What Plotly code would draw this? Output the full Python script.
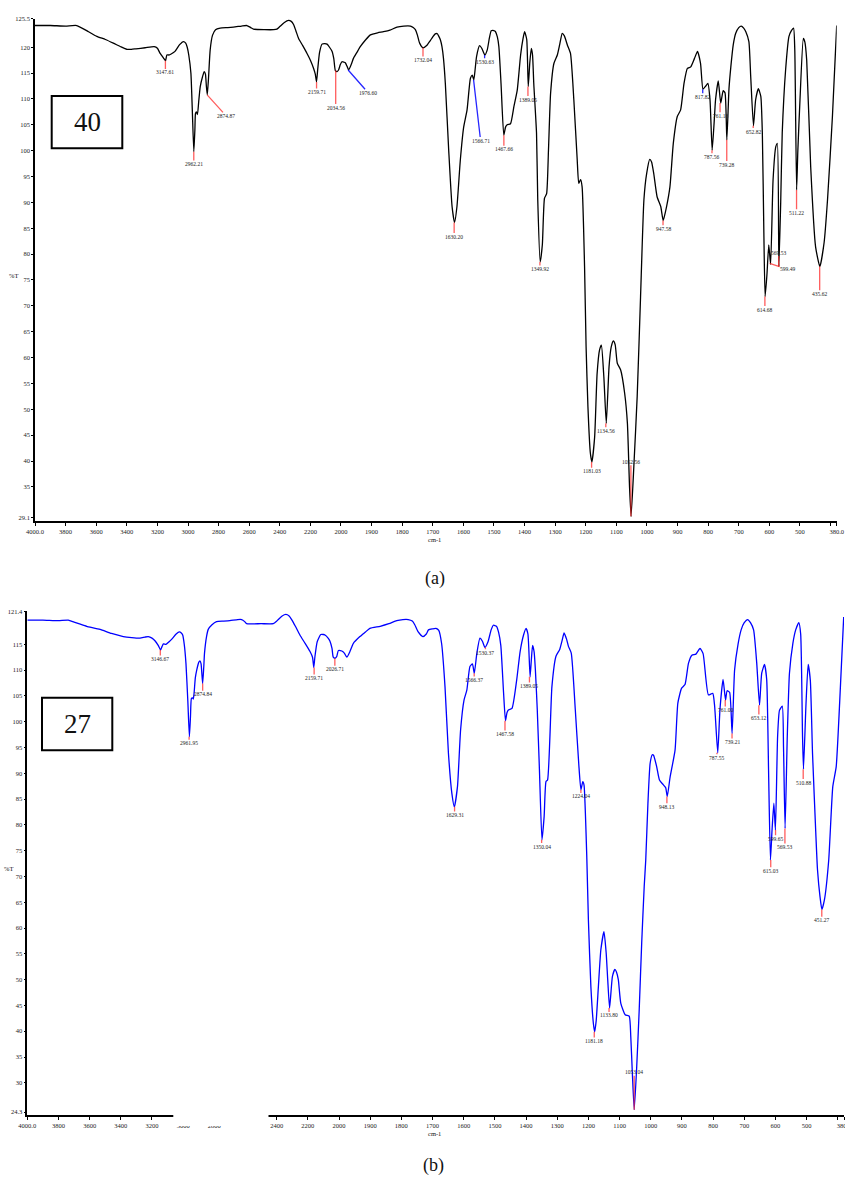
import numpy as np
import plotly.graph_objects as go

# ---------------- data ----------------
wn_a = [4000, 3900, 3800, 3727, 3650, 3596, 3540, 3488, 3440, 3400, 3370, 3340, 3280, 3221, 3200, 3182, 3160, 3147, 3138, 3125, 3110, 3085, 3055, 3030, 3015, 3005, 2995, 2981, 2972, 2962, 2955, 2951, 2945, 2938, 2930, 2920, 2905, 2894, 2886, 2880, 2874, 2866, 2855, 2840, 2820, 2790, 2740, 2703, 2650, 2615, 2590, 2572, 2500, 2440, 2419, 2400, 2370, 2343, 2325, 2310, 2295, 2277, 2250, 2222, 2200, 2179, 2168, 2160, 2152, 2140, 2124, 2105, 2091, 2075, 2058, 2047, 2037, 2026, 2016, 2005, 1997, 1990, 1986, 1980, 1975, 1967, 1959, 1948, 1937, 1920, 1904, 1880, 1861, 1840, 1817, 1795, 1773, 1764, 1757, 1750, 1743, 1732, 1719, 1708, 1700, 1692, 1685, 1681, 1675, 1670, 1665, 1659, 1648, 1637, 1629, 1621, 1610, 1599, 1588, 1577, 1571, 1566, 1562, 1557, 1547, 1540, 1530, 1522, 1515, 1509, 1500, 1495, 1489, 1484, 1477, 1468, 1462, 1457, 1446, 1435, 1424, 1413, 1405, 1400, 1393, 1388, 1383, 1378, 1374, 1370, 1361, 1357, 1349, 1342, 1335, 1328, 1322, 1315, 1304, 1293, 1285, 1277, 1270, 1260, 1250, 1239, 1228, 1223, 1217, 1212, 1204, 1199, 1193, 1185, 1180, 1171, 1163, 1155, 1149, 1141, 1133, 1124, 1117, 1110, 1104, 1097, 1086, 1073, 1064, 1057, 1052, 1043, 1032, 1021, 1010, 1001, 991, 985, 978, 967, 955, 947, 936, 925, 914, 901, 890, 879, 868, 857, 845, 835, 825, 817, 808, 801, 794, 787, 780, 776, 767, 759, 751, 745, 739, 732, 726, 718, 710, 700, 692, 684, 677, 667, 661, 652, 645, 636, 628, 623, 618, 614, 608, 602, 596, 588, 579, 574, 569, 563, 558, 547, 536, 528, 521, 517, 511, 507, 500, 489, 484, 478, 465, 449, 435, 421, 410, 394, 380]
t_a = [124.2, 124.2, 124.1, 124.2, 123.0, 122.1, 121.5, 120.8, 120.1, 119.6, 119.6, 119.7, 119.9, 120.1, 119.8, 118.8, 117.9, 117.4, 118.5, 118.5, 118.7, 119.2, 120.5, 121.1, 120.8, 120.0, 118.5, 115.0, 108.0, 99.8, 104.0, 107.2, 107.5, 107.0, 109.5, 112.4, 114.3, 115.3, 114.8, 112.5, 110.8, 114.0, 119.5, 122.3, 123.4, 123.7, 123.8, 123.9, 124.1, 124.2, 123.8, 123.5, 123.4, 123.4, 123.5, 124.0, 124.8, 125.2, 125.0, 124.4, 123.2, 121.7, 120.3, 118.8, 117.5, 115.9, 114.8, 113.3, 115.8, 119.0, 120.6, 120.7, 120.6, 120.0, 119.2, 117.8, 115.5, 115.3, 115.6, 116.6, 117.2, 117.1, 117.0, 116.3, 115.6, 116.6, 117.9, 119.0, 120.1, 121.4, 122.4, 122.8, 123.0, 123.3, 123.9, 124.1, 124.1, 123.8, 123.4, 122.3, 120.8, 119.9, 120.4, 121.3, 122.0, 122.6, 122.6, 122.2, 121.4, 120.1, 117.8, 113.0, 100.1, 89.2, 86.1, 89.2, 98.2, 104.6, 107.9, 114.0, 114.6, 113.7, 115.5, 118.2, 120.3, 119.8, 118.5, 119.5, 121.8, 123.2, 123.2, 123.0, 122.0, 120.1, 113.0, 103.0, 104.6, 105.0, 105.2, 108.5, 111.7, 118.5, 121.7, 123.0, 121.5, 112.4, 117.0, 119.8, 118.5, 113.0, 103.4, 90.5, 78.5, 81.8, 90.8, 91.7, 100.0, 111.1, 116.9, 118.5, 120.6, 122.7, 122.2, 120.4, 118.8, 109.8, 98.2, 93.7, 94.4, 93.0, 77.6, 62.1, 50.5, 41.5, 39.8, 44.7, 56.9, 61.5, 62.4, 56.3, 47.3, 58.2, 62.0, 63.2, 62.5, 58.9, 57.6, 53.1, 47.3, 35.0, 29.3, 38.9, 52.5, 71.8, 90.5, 95.6, 98.3, 97.8, 95.6, 91.1, 89.2, 86.5, 89.2, 93.0, 101.4, 106.6, 107.9, 113.0, 115.9, 116.2, 117.8, 119.2, 116.9, 111.9, 112.5, 113.0, 109.8, 100.1, 106.0, 109.8, 113.5, 109.2, 111.6, 111.2, 102.1, 112.0, 116.2, 120.5, 122.7, 123.8, 124.1, 123.7, 123.0, 121.1, 114.3, 104.8, 109.8, 112.0, 110.5, 103.4, 84.0, 71.8, 76.0, 81.8, 78.0, 94.3, 100.8, 101.4, 77.6, 90.0, 103.4, 115.6, 122.1, 123.2, 123.7, 119.5, 92.4, 100.0, 109.8, 121.7, 121.0, 117.5, 96.9, 81.4, 77.6, 82.3, 90.5, 106.6, 124.2]

wn_b = [4000, 3900, 3800, 3737, 3700, 3660, 3619, 3533, 3460, 3384, 3330, 3277, 3245, 3224, 3200, 3181, 3160, 3145, 3135, 3127, 3110, 3090, 3073, 3045, 3024, 3012, 3003, 2993, 2982, 2970, 2960, 2953, 2947, 2940, 2935, 2930, 2922, 2913, 2900, 2892, 2885, 2875, 2868, 2863, 2850, 2839, 2815, 2786, 2740, 2700, 2650, 2625, 2605, 2593, 2500, 2422, 2400, 2390, 2365, 2341, 2320, 2304, 2280, 2251, 2220, 2186, 2170, 2162, 2155, 2140, 2117, 2100, 2090, 2070, 2058, 2045, 2037, 2026, 2015, 2004, 1991, 1983, 1975, 1965, 1954, 1933, 1915, 1901, 1868, 1840, 1815, 1795, 1778, 1765, 1757, 1746, 1731, 1720, 1713, 1700, 1689, 1680, 1671, 1660, 1649, 1638, 1630, 1620, 1610, 1599, 1590, 1580, 1572, 1566, 1558, 1548, 1540, 1532, 1522, 1512, 1505, 1495, 1488, 1481, 1472, 1466, 1461, 1456, 1445, 1430, 1419, 1408, 1400, 1394, 1387, 1383, 1379, 1374, 1370, 1364, 1357, 1349, 1342, 1336, 1331, 1317, 1304, 1292, 1284, 1278, 1270, 1264, 1255, 1242, 1231, 1224, 1218, 1214, 1205, 1200, 1192, 1184, 1180, 1175, 1168, 1160, 1150, 1143, 1138, 1132, 1123, 1115, 1110, 1104, 1096, 1082, 1069, 1064, 1059, 1053, 1045, 1037, 1029, 1021, 1016, 1009, 1002, 995, 991, 981, 972, 960, 952, 947, 938, 922, 913, 901, 890, 879, 868, 855, 842, 832, 815, 801, 795, 785, 778, 768, 760, 755, 747, 739, 731, 720, 710, 700, 689, 680, 670, 660, 651, 644, 635, 628, 622, 616, 611, 605, 600, 593, 587, 578, 574, 569, 562, 555, 544, 535, 525, 519, 513, 510, 502, 495, 488, 481, 470, 465, 457, 451, 443, 429, 416, 405, 394, 381]
t_b = [119.7, 119.7, 119.6, 119.7, 119.3, 118.9, 118.5, 117.9, 117.1, 116.5, 116.3, 116.2, 116.4, 116.5, 116.2, 115.7, 114.8, 113.9, 114.6, 115.1, 115.0, 115.5, 116.0, 117.0, 117.4, 117.2, 116.8, 115.0, 111.3, 104.0, 97.1, 101.0, 104.5, 104.6, 104.4, 105.5, 108.5, 110.0, 111.5, 111.8, 111.2, 107.4, 110.5, 113.3, 116.5, 117.9, 118.8, 119.4, 119.5, 119.6, 119.8, 119.8, 119.4, 119.0, 119.0, 119.0, 119.5, 119.8, 120.5, 120.8, 120.5, 119.8, 118.5, 116.8, 115.3, 113.6, 112.5, 110.5, 112.5, 115.5, 116.9, 116.9, 116.8, 116.2, 115.6, 114.2, 112.5, 112.3, 112.6, 113.8, 113.7, 113.3, 112.5, 113.6, 115.2, 116.5, 117.4, 118.1, 118.5, 119.0, 119.6, 119.8, 119.8, 119.5, 118.8, 117.4, 116.5, 117.0, 117.8, 118.0, 118.1, 117.7, 115.2, 106.8, 93.9, 86.1, 83.5, 87.4, 98.4, 104.2, 106.1, 110.7, 111.2, 109.4, 113.2, 116.2, 115.6, 114.4, 115.5, 117.8, 118.7, 118.5, 117.3, 114.8, 105.5, 100.2, 101.8, 102.3, 102.6, 108.1, 113.6, 116.8, 118.1, 117.0, 108.7, 112.0, 114.8, 113.5, 110.0, 102.3, 90.6, 77.1, 81.6, 88.4, 88.7, 106.8, 112.7, 114.0, 115.8, 117.2, 116.0, 114.6, 113.3, 102.3, 91.9, 86.8, 88.4, 87.7, 73.5, 61.6, 48.6, 41.5, 39.9, 42.0, 48.6, 55.8, 59.3, 55.2, 50.0, 44.5, 50.6, 52.0, 51.5, 50.0, 45.4, 43.2, 42.9, 38.9, 31.9, 24.8, 33.1, 44.1, 57.1, 68.0, 73.2, 84.2, 91.9, 93.6, 93.5, 91.3, 88.7, 87.8, 87.2, 85.5, 89.2, 94.5, 103.6, 106.5, 107.2, 111.3, 112.9, 113.1, 114.2, 113.2, 105.2, 105.5, 103.0, 94.0, 102.3, 108.2, 104.2, 106.0, 105.7, 97.7, 110.0, 115.0, 117.8, 119.2, 119.8, 119.2, 117.8, 111.4, 103.2, 109.4, 111.1, 108.2, 90.6, 73.2, 78.8, 84.2, 79.0, 97.1, 102.2, 103.0, 95.0, 79.3, 97.1, 109.4, 115.2, 117.8, 119.2, 117.0, 97.1, 90.8, 103.3, 111.1, 108.0, 93.9, 77.7, 71.3, 66.1, 63.6, 65.4, 73.2, 87.4, 91.3, 103.6, 120.3]

peaks_a_wn = [3147.61, 2962.21, 2874.87, 2159.71, 2034.56, 1976.60, 1732.04, 1630.20, 1566.71, 1530.63, 1467.66, 1389.05, 1349.92, 1181.03, 1134.56, 1052.56, 947.58, 817.82, 787.56, 761.18, 739.28, 652.82, 614.68, 599.49, 569.53, 511.22, 435.62]
peaks_a_t = [117.4, 99.8, 110.8, 113.3, 115.5, 115.6, 119.9, 86.1, 113.7, 118.5, 103.0, 112.4, 78.5, 39.8, 47.3, 29.3, 86.5, 111.9, 100.1, 109.2, 102.1, 104.8, 71.8, 78.2, 77.6, 92.4, 77.6]
peaks_b_wn = [3146.67, 2961.95, 2874.84, 2159.71, 2026.71, 1629.31, 1566.37, 1530.37, 1467.58, 1389.05, 1350.04, 1224.04, 1181.18, 1133.80, 1053.04, 948.13, 787.55, 761.00, 739.21, 653.12, 615.03, 599.65, 569.53, 510.88, 451.27]
peaks_b_t = [113.9, 97.1, 107.4, 110.5, 112.3, 83.5, 109.4, 114.4, 100.2, 108.7, 77.1, 86.8, 39.9, 44.5, 24.8, 85.5, 94.0, 104.2, 97.7, 103.2, 73.2, 79.0, 79.3, 90.8, 63.6]

tick_wn = [4000, 3800, 3600, 3400, 3200, 3000, 2800, 2600, 2400, 2200, 2000, 1900, 1800, 1700, 1600, 1500, 1400, 1300, 1200, 1100, 1000, 900, 800, 700, 600, 500, 400, 380]
tick_text = ["4000.0", "3800", "3600", "3400", "3200", "3000", "2800", "2600", "2400", "2200", "2000", "1900", "1800", "1700", "1600", "1500", "1400", "1300", "1200", "1100", "1000", "900", "800", "700", "600", "500", "", "380.0"]
ytick_a = [29.1, 35, 40, 45, 50, 55, 60, 65, 70, 75, 80, 85, 90, 95, 100, 105, 110, 115, 120, 125.5]
ytick_b = [24.3, 30, 35, 40, 45, 50, 55, 60, 65, 70, 75, 80, 85, 90, 95, 100, 105, 110, 115, 121.4]

# ------------- label styling (pixel offsets) -------------
a_ax = [0, 0, 19, 0, 0, 20, 0, 0, 7, 0, 0, 0, 0, 0, 0, 0, 0, 0, 0, 0, 0, 0, 0, 18, 0, 0, 0]
a_ay = [11.7, 12.3, 21, 10, 37, 22.7, 12.3, 14, 60.7, 6.7, 14, 13, 7, 9.3, 7.4, -54.6, 8.3, 7.7, 6.7, 12.7, 24.7, 5.7, 13, 5.6, -14, 22.7, 27.3]
a_blue = {1976.60, 1566.71, 1530.63, 817.82}
b_ay = [9, 6.5, 10.7, 10.4, 11, 8.3, 6.7, 5.4, 13.3, 9.3, 6.7, 6.7, 9.3, 7.4, -37.3, 10.3, 5, 10, 8.4, 12.7, 10.7, 8.7, 18.4, 13.4, 10.7]


def xf(w):
    w = np.asarray(w, float)
    return np.where(w >= 2000, (4000 - w) / 200.0, 10 + (2000 - w) / 100.0)


W, H = 845, 1183
FONT = "Liberation Serif"
RED = "rgba(255,40,40,0.75)"
BLUE = "rgba(0,0,255,0.85)"
XMAX = float(xf(380)) + 1e-9

fig = go.Figure()
fig.add_trace(go.Scatter(x=xf(wn_a), y=t_a, mode="lines",
                         line=dict(color="black", width=1.3, shape="spline", smoothing=0.5),
                         xaxis="x", yaxis="y", hoverinfo="skip", showlegend=False))
fig.add_trace(go.Scatter(x=xf(wn_b), y=t_b, mode="lines",
                         line=dict(color="#0000ff", width=1.3, shape="spline", smoothing=0.5),
                         xaxis="x2", yaxis="y2", hoverinfo="skip", showlegend=False))


def px(x):
    return x / W


def py(y):
    return 1 - y / H


axis_common = dict(showline=True, linecolor="black", linewidth=1.5, ticks="outside",
                   tickwidth=1, tickcolor="black", showgrid=False, zeroline=False,
                   tickfont=dict(family=FONT, size=6.5, color="#222"), fixedrange=True,
                   automargin=False)

fig.update_layout(
    width=W, height=H, margin=dict(l=0, r=0, t=0, b=0, autoexpand=False),
    paper_bgcolor="white", plot_bgcolor="white",
    xaxis=dict(domain=[px(35), px(836.7)], range=[0, XMAX], anchor="y", ticklen=3,
               tickmode="array", tickvals=list(xf(tick_wn)), ticktext=tick_text,
               ticklabeloverflow="allow", **axis_common),
    yaxis=dict(domain=[py(521), py(18.8)], range=[28.4, 125.5], anchor="x", ticklen=2,
               tickmode="array", tickvals=ytick_a, ticktext=[str(v) for v in ytick_a],
               **axis_common),
    xaxis2=dict(domain=[px(27.3), px(844)], range=[0, XMAX], anchor="y2", ticklen=3,
                tickmode="array", tickvals=list(xf(tick_wn)), ticktext=tick_text,
                ticklabeloverflow="allow", **axis_common),
    yaxis2=dict(domain=[py(1115.3), py(611.3)], range=[23.7, 121.4], anchor="x2", ticklen=2,
                tickmode="array", tickvals=ytick_b, ticktext=[str(v) for v in ytick_b],
                **axis_common),
)

annotations = []
for i, (w, t) in enumerate(zip(peaks_a_wn, peaks_a_t)):
    col = BLUE if w in a_blue else RED
    annotations.append(dict(x=float(xf(w)), y=t, xref="x", yref="y", text=f"{w:.2f}",
                            showarrow=True, arrowhead=0, arrowwidth=1.3, arrowcolor=col,
                            ax=a_ax[i], ay=a_ay[i], standoff=0, borderpad=0,
                            font=dict(family=FONT, size=5.5, color="#222")))
for i, (w, t) in enumerate(zip(peaks_b_wn, peaks_b_t)):
    annotations.append(dict(x=float(xf(w)), y=t, xref="x2", yref="y2", text=f"{w:.2f}",
                            showarrow=True, arrowhead=0, arrowwidth=1.3, arrowcolor=RED,
                            ax=0, ay=b_ay[i], standoff=0, borderpad=0,
                            font=dict(family=FONT, size=5.5, color="#222")))


def paper_text(x, y, text, size):
    return dict(x=px(x), y=py(y), xref="paper", yref="paper", text=text, showarrow=False,
                xanchor="center", yanchor="middle",
                font=dict(family=FONT, size=size, color="#111"))


annotations += [
    paper_text(13.3, 275, "%T", 6.5),
    paper_text(8.5, 868, "%T", 6.5),
    paper_text(435, 539.5, "cm-1", 6.5),
    paper_text(435, 1133.5, "cm-1", 6.5),
    paper_text(435, 578, "(a)", 18),
    paper_text(433, 1165, "(b)", 18),
    paper_text(87, 122, "40", 27),
    paper_text(77.2, 724, "27", 27),
]
fig.update_layout(annotations=annotations)

shapes = [
    dict(type="rect", xref="paper", yref="paper", x0=px(51.7), x1=px(122.3), y0=py(148.3), y1=py(96),
         line=dict(color="black", width=2), fillcolor="rgba(0,0,0,0)", layer="above"),
    dict(type="rect", xref="paper", yref="paper", x0=px(42), x1=px(112.3), y0=py(750.3), y1=py(697.7),
         line=dict(color="black", width=2), fillcolor="rgba(0,0,0,0)", layer="above"),
    # blanked portion of lower axis (as in the source image)
    dict(type="rect", xref="paper", yref="paper", x0=px(173.3), x1=px(268.3), y0=py(1126), y1=py(1112.5),
         line=dict(width=0), fillcolor="white", layer="above"),
    dict(type="rect", xref="paper", yref="paper", x0=px(228), x1=px(268.3), y0=py(1130), y1=py(1112.5),
         line=dict(width=0), fillcolor="white", layer="above"),
]
fig.update_layout(shapes=shapes)

fig.write_html("out.html", config={"displayModeBar": False},
               post_script="document.body.style.margin='0px';document.body.style.padding='0px';")
